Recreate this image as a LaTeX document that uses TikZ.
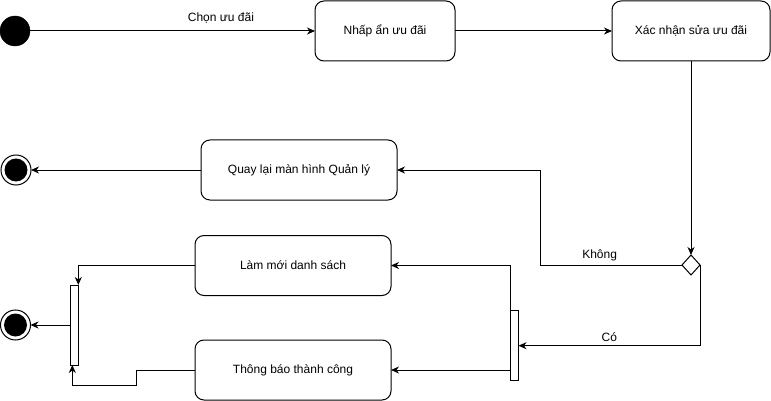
\documentclass[tikz,border=0pt]{standalone}
\usepackage{fontspec}
\setmainfont{Liberation Sans}
\usetikzlibrary{shapes.geometric, arrows.meta, positioning}
\tikzset{
    activity/.style={rectangle, rounded corners=9pt, draw=black, line width=1pt, outer sep=0pt, minimum height=60pt, text centered, font=\fontsize{12}{14}\selectfont},
    startstate/.style={circle, fill=black, draw=black, outer sep=0pt, minimum size=30pt, inner sep=0pt},
    endstate/.style={circle, draw=black, line width=1pt, outer sep=0pt, minimum size=30pt, inner sep=0pt, path picture={\fill[black] (path picture bounding box.center) circle (11.5pt);}},
    decision/.style={diamond, draw=black, line width=1pt, outer sep=0pt, minimum width=18pt, minimum height=20pt, inner sep=0pt},
    syncbar/.style={rectangle, draw=black, line width=1pt, outer sep=0pt, minimum width=8pt, inner sep=0pt},
    line/.style={draw, -{Stealth[length=8pt, width=7pt, inset=2.5pt]}, line width=1pt},
    guard/.style={font=\fontsize{12}{14}\selectfont}
}
\begin{document}
\begin{tikzpicture}[x=1pt, y=1pt]
    \useasboundingbox (0,0) rectangle (771,-401);

    % Top row
    \node [startstate] (start) at (15,-31) {};
    \node [activity, minimum width=140pt, right=285pt of start] (tap) {Nhấp ẩn ưu đãi};
    \node [activity, minimum width=158pt, right=157pt of tap] (confirm) {Xác nhận sửa ưu đãi};

    % Decision
    \node [decision, below=194pt of confirm] (choice) {};

    % Back branch
    \node [activity, minimum width=196pt, below=79pt of tap, xshift=-86pt] (back) {Quay lại màn hình Quản lý};
    \node [endstate, left=170pt of back] (endback) {};

    % Success branch
    \node [activity, minimum width=196pt, below=35.5pt of back, xshift=-6pt] (refresh) {Làm mới danh sách};
    \node [activity, minimum width=196pt, below=44.5pt of refresh] (notify) {Thông báo thành công};
    \node [syncbar, minimum height=70pt, right=119.5pt of notify, yshift=24.3pt] (fork) {};
    \node [syncbar, minimum height=80pt, left=116.7pt of notify, yshift=45pt] (join) {};
    \node [endstate, left=39.8pt of join] (endok) {};

    % Connections
    \draw [line] (start) -- node[pos=0.67, above, yshift=4pt, guard] {Chọn ưu đãi} (tap);
    \draw [line] (tap) -- (confirm);
    \draw [line] (confirm) -- (choice);
    \draw [line] (choice.west) -- node[pos=0.58, above, guard] {Không} ++(-142,0) |- (back.east);
    \draw [line] (back.west) -- (endback);
    \draw [line] (choice.east) |- node[pos=0.75, above, guard] {Có} (fork.east);
    \draw [line] (fork.west |- notify.east) |- (refresh.east);
    \draw [line] (fork.west |- notify.east) -- (notify.east);
    \draw [line] (refresh.west) -| (join.north east);
    \draw [line] (notify.west) -- ++(-58.3,0) -- ++(0,-15.3) -| ([xshift=-2pt]join.south);
    \draw [line] (join.west) -- (endok);

\end{tikzpicture}
\end{document}
